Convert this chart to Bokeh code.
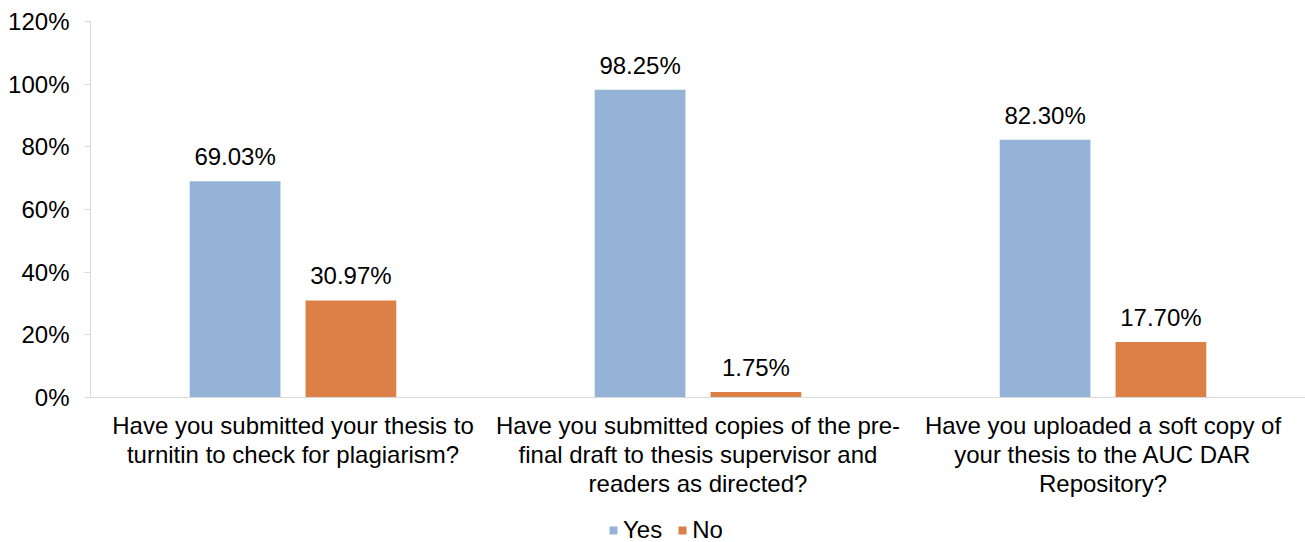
from bokeh.plotting import figure
from bokeh.layouts import column
from bokeh.models import (ColumnDataSource, Range1d, FixedTicker, NumeralTickFormatter,
                          Legend, LegendItem, LabelSet)
from bokeh.core.properties import value
from bokeh.embed import file_html
from bokeh.resources import INLINE

categories = [
    "Have you submitted your thesis to\nturnitin to check for plagiarism?",
    "Have you submitted copies of the pre-\nfinal draft to thesis supervisor and\nreaders as directed?",
    "Have you uploaded a soft copy of\nyour thesis to the AUC DAR\nRepository?",
]
series = ["Yes", "No"]
yes_vals = [0.6903, 0.9825, 0.8230]
no_vals = [0.3097, 0.0175, 0.1770]
yes_labels = ["69.03%", "98.25%", "82.30%"]
no_labels = ["30.97%", "1.75%", "17.70%"]
y_ticks = [0, 0.2, 0.4, 0.6, 0.8, 1.0, 1.2]

FONT = "Liberation Sans"
FS = "24px"
BLUE = "#95B3D7"
ORANGE = "#DD8047"

centers = [i + 0.5 for i in range(len(categories))]
off = 0.143
bw = 0.224

src_yes = ColumnDataSource(dict(x=[c - off for c in centers], top=yes_vals, lab=yes_labels))
src_no = ColumnDataSource(dict(x=[c + off for c in centers], top=no_vals, lab=no_labels))

p = figure(width=1305, height=510, output_backend="svg", toolbar_location=None,
           x_range=Range1d(0, 3), y_range=Range1d(0, 1.2),
           min_border_left=90, min_border_right=0, min_border_top=21, min_border_bottom=113)
p.outline_line_color = None
p.grid.visible = False
p.background_fill_color = "white"
p.border_fill_color = "white"

p.vbar(x="x", top="top", width=bw, source=src_yes, fill_color=BLUE, line_color=None)
p.vbar(x="x", top="top", width=bw, source=src_no, fill_color=ORANGE, line_color=None)

for src in (src_yes, src_no):
    ls = LabelSet(x="x", y="top", text="lab", source=src, text_align="center",
                  text_baseline="alphabetic", y_offset=16, text_font=value(FONT),
                  text_font_size=value(FS), text_color="#000000")
    p.add_layout(ls)

# y axis
p.yaxis.ticker = FixedTicker(ticks=y_ticks)
p.yaxis.formatter = NumeralTickFormatter(format="0%")
p.yaxis.axis_line_color = "#D9D9D9"
p.yaxis.major_tick_line_color = "#D9D9D9"
p.yaxis.major_tick_out = 6
p.yaxis.major_tick_in = 0
p.yaxis.minor_tick_line_color = None
p.yaxis.major_label_text_font = FONT
p.yaxis.major_label_text_font_size = FS
p.yaxis.major_label_text_color = "#000000"
p.yaxis.major_label_standoff = 15

# x axis
p.xaxis.ticker = FixedTicker(ticks=centers)
p.xaxis.major_label_overrides = {c: lab for c, lab in zip(centers, categories)}
p.xaxis.axis_line_color = "#D9D9D9"
p.xaxis.major_tick_line_color = None
p.xaxis.minor_tick_line_color = None
p.xaxis.major_label_text_font = FONT
p.xaxis.major_label_text_font_size = FS
p.xaxis.major_label_text_color = "#000000"
p.xaxis.major_label_standoff = 8
p.xaxis.major_label_text_line_height = 1.09

# legend strip below the chart (helper glyphs sit outside the strip's visible range)
p2 = figure(width=1305, height=40, output_backend="svg", toolbar_location=None,
            x_range=Range1d(0, 1), y_range=Range1d(0, 1),
            min_border_left=0, min_border_right=0, min_border_top=0, min_border_bottom=0)
p2.outline_line_color = None
p2.grid.visible = False
p2.axis.visible = False
p2.background_fill_color = "white"
p2.border_fill_color = "white"
leg_yes = p2.vbar(x=[-5], top=[-5], bottom=[-6], width=0.1, fill_color=BLUE, line_color=None)
leg_no = p2.vbar(x=[-5], top=[-5], bottom=[-6], width=0.1, fill_color=ORANGE, line_color=None)

legend = Legend(items=[LegendItem(label=series[0], renderers=[leg_yes], index=0),
                       LegendItem(label=series[1], renderers=[leg_no], index=0)],
                orientation="horizontal", location=(518, 6),
                label_text_font=FONT, label_text_font_size=FS,
                label_text_color="#000000", glyph_width=10, glyph_height=10,
                label_standoff=5, spacing=15, border_line_color=None,
                background_fill_alpha=0, padding=0, margin=0)
p2.add_layout(legend, "center")

layout = column(p, p2, spacing=0)
open("out.html", "w").write(file_html(layout, INLINE))
